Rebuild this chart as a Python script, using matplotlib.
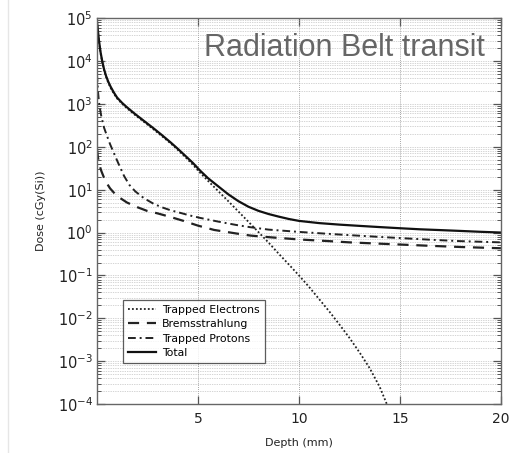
import matplotlib
matplotlib.use("Agg")
import matplotlib.pyplot as plt
from matplotlib.lines import Line2D
from matplotlib.ticker import LogLocator, NullFormatter, FixedLocator

# Dose-depth curves (depth in mm, dose in cGy(Si))
depth_electrons = [0.0, 0.05, 0.1, 0.18, 0.26, 0.35, 0.45, 0.56, 0.68, 0.85, 1.0, 1.25,
                   1.49, 1.9, 2.33, 2.8, 3.2, 3.65, 4.0, 4.4, 4.75, 5.1, 5.5, 6.0, 6.5,
                   7.0, 7.5, 8.0, 8.5, 9.0, 9.5, 10.0, 10.5, 11.0, 11.5, 12.0, 12.5,
                   13.0, 13.5, 14.0, 14.35, 14.5]
dose_electrons = [8.1e4, 4.75e4, 2.85e4, 1.52e4, 9.5e3, 6.2e3, 4.3e3, 3.1e3, 2.35e3,
                  1.7e3, 1.33e3, 1.0e3, 790, 545, 380, 255, 180, 120, 85, 56, 38, 25,
                  16, 9.3, 5.4, 3.1, 1.78, 1.02, 0.58, 0.32, 0.18, 0.10, 0.054, 0.028,
                  0.0145, 0.0072, 0.0035, 1.6e-3, 6.9e-4, 2.5e-4, 1.0e-4, 6.3e-5]

depth_brems = [0.0, 0.05, 0.12, 0.22, 0.35, 0.5, 0.65, 0.84, 1.1, 1.49, 2.0, 2.48, 3.0,
               3.65, 4.3, 5.0, 5.8, 6.9, 7.6, 8.5, 10.0, 11.5, 12.5, 14.0, 16.5, 18.0,
               20.0]
dose_brems = [90, 56, 38, 27, 19, 13.8, 10.7, 8.5, 6.6, 5.0, 3.9, 3.2, 2.8, 2.3, 1.86,
              1.45, 1.15, 0.95, 0.85, 0.78, 0.69, 0.63, 0.59, 0.55, 0.49, 0.46, 0.43]

depth_protons = [0.0, 0.05, 0.1, 0.2, 0.35, 0.5, 0.65, 0.84, 1.05, 1.34, 1.6, 1.9, 2.33,
                 2.8, 3.2, 3.65, 4.1, 4.6, 5.1, 6.0, 6.9, 7.6, 8.5, 10.0, 11.5, 12.5,
                 14.0, 16.5, 18.0, 20.0]
dose_protons = [5000, 2000, 1100, 560, 280, 178, 115, 71, 42, 21, 13, 9.1, 6.3, 4.7,
                3.9, 3.3, 2.9, 2.5, 2.2, 1.8, 1.5, 1.33, 1.17, 1.035, 0.93, 0.87, 0.79,
                0.68, 0.63, 0.59]

depth_total = [0.0, 0.05, 0.1, 0.18, 0.26, 0.35, 0.45, 0.56, 0.68, 0.85, 1.0, 1.25, 1.49,
               1.9, 2.33, 2.8, 3.2, 3.65, 4.0, 4.4, 4.75, 5.1, 5.5, 6.0, 6.5, 7.0, 7.5,
               8.0, 8.5, 9.0, 9.5, 10.0, 11.0, 12.0, 13.0, 14.0, 15.0, 16.0, 17.0,
               18.0, 19.0, 20.0]
dose_total = [8.5e4, 5e4, 3e4, 1.6e4, 1e4, 6.5e3, 4.5e3, 3.3e3, 2.5e3, 1.8e3, 1.4e3,
              1.05e3, 830, 575, 400, 270, 190, 126, 90, 60, 42, 28, 18.5, 12, 7.8, 5.4,
              4.0, 3.2, 2.7, 2.35, 2.07, 1.87, 1.66, 1.53, 1.43, 1.34, 1.26, 1.19,
              1.14, 1.09, 1.04, 1.0]

series_labels = ["Trapped Electrons", "Bremsstrahlung", "Trapped Protons", "Total"]
x_ticks = [5, 10, 15, 20]

fig = plt.figure(figsize=(5.24, 4.53), dpi=100)
ax = fig.add_axes([0.185, 0.108, 0.771, 0.852])

ax.plot(depth_electrons, dose_electrons, color="#222222", lw=1.3, ls=(0, (1, 1.2)),
        label=series_labels[0])
ax.plot(depth_brems, dose_brems, color="#222222", lw=1.6, ls=(0, (5, 3.5)),
        label=series_labels[1])
ax.plot(depth_protons, dose_protons, color="#222222", lw=1.4, ls=(0, (4, 2, 1, 2)),
        label=series_labels[2])
ax.plot(depth_total, dose_total, color="#111111", lw=1.6, ls="-",
        label=series_labels[3])

ax.set_yscale("log")
ax.set_xlim(0, 20)
ax.set_ylim(1e-4, 1e5)

ax.xaxis.set_major_locator(FixedLocator(x_ticks))
ax.yaxis.set_major_locator(LogLocator(base=10, numticks=20))
ax.yaxis.set_minor_locator(LogLocator(base=10, subs=range(2, 10), numticks=100))
ax.yaxis.set_minor_formatter(NullFormatter())

ax.tick_params(axis="both", which="major", direction="in", top=True, right=True,
               length=6, width=0.9, color="#555555", labelsize=10.5, labelcolor="#222222")
ax.tick_params(axis="y", which="minor", direction="in", left=True, right=True,
               length=3, width=0.7, color="#555555")
ax.tick_params(axis="x", which="major", pad=6, labelsize=10)
ax.tick_params(axis="y", which="major", pad=3)

ax.grid(True, which="major", axis="x", color="#888888", ls=(0, (1, 1.5)), lw=0.6)
ax.grid(True, which="both", axis="y", color="#aaaaaa", ls=(0, (1, 1.5)), lw=0.5)

for sp in ax.spines.values():
    sp.set_color("#666666")
    sp.set_linewidth(1.0)

ax.set_xlabel("Depth (mm)", fontsize=8, labelpad=8, color="#222222")
ax.set_ylabel("Dose (cGy(Si))", fontsize=8, labelpad=8, color="#222222")

ax.text(0.96, 0.922, "Radiation Belt transit", transform=ax.transAxes,
        ha="right", va="center", fontsize=22, color="#666666",
        family="Liberation Sans")

leg = ax.legend(loc="lower left", bbox_to_anchor=(0.064, 0.106), fontsize=7.8,
                frameon=True, fancybox=False, handlelength=2.6, borderpad=0.45,
                labelspacing=0.42, handletextpad=0.6, borderaxespad=0)
leg.get_frame().set_edgecolor("#333333")
leg.get_frame().set_linewidth(0.9)

fig.add_artist(Line2D([8 / 524, 8 / 524], [0, 1], transform=fig.transFigure,
                      color="#e6e6e6", lw=1))

fig.savefig("out.png", dpi=100, facecolor="white")
